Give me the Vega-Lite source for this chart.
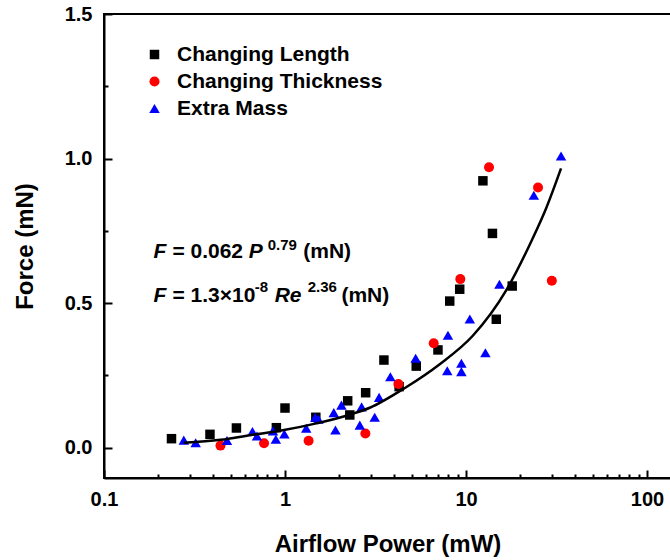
{
  "$schema": "https://vega.github.io/schema/vega-lite/v6.json",
  "width": 567,
  "height": 464,
  "autosize": {"type": "none"},
  "padding": {"left": 104, "top": 14, "right": 0, "bottom": 82},
  "background": "white",
  "config": {"view": {"stroke": "black", "strokeWidth": 2}, "font": "Liberation Sans", "axis": {"gridOpacity": 0}},
  "datasets": {
    "points": [
      {"series": "Changing Length", "power": 0.236, "force": 0.031},
      {"series": "Changing Length", "power": 0.385, "force": 0.046},
      {"series": "Changing Length", "power": 0.539, "force": 0.068},
      {"series": "Changing Length", "power": 0.896, "force": 0.069},
      {"series": "Changing Length", "power": 1.0, "force": 0.137},
      {"series": "Changing Length", "power": 1.48, "force": 0.105},
      {"series": "Changing Length", "power": 2.22, "force": 0.162},
      {"series": "Changing Length", "power": 2.28, "force": 0.113},
      {"series": "Changing Length", "power": 2.79, "force": 0.19},
      {"series": "Changing Length", "power": 3.52, "force": 0.303},
      {"series": "Changing Length", "power": 4.27, "force": 0.211},
      {"series": "Changing Length", "power": 5.31, "force": 0.282},
      {"series": "Changing Length", "power": 7.0, "force": 0.338},
      {"series": "Changing Length", "power": 8.13, "force": 0.507},
      {"series": "Changing Length", "power": 9.23, "force": 0.548},
      {"series": "Changing Length", "power": 12.4, "force": 0.923},
      {"series": "Changing Length", "power": 14.0, "force": 0.741},
      {"series": "Changing Length", "power": 14.7, "force": 0.444},
      {"series": "Changing Length", "power": 18.0, "force": 0.559},
      {"series": "Changing Thickness", "power": 0.44, "force": 0.007},
      {"series": "Changing Thickness", "power": 0.766, "force": 0.015},
      {"series": "Changing Thickness", "power": 1.35, "force": 0.024},
      {"series": "Changing Thickness", "power": 2.78, "force": 0.049},
      {"series": "Changing Thickness", "power": 4.23, "force": 0.22},
      {"series": "Changing Thickness", "power": 6.63, "force": 0.361},
      {"series": "Changing Thickness", "power": 9.3, "force": 0.583},
      {"series": "Changing Thickness", "power": 13.4, "force": 0.97},
      {"series": "Changing Thickness", "power": 25.0, "force": 0.9},
      {"series": "Changing Thickness", "power": 29.8, "force": 0.577},
      {"series": "Extra Mass", "power": 0.276, "force": 0.026},
      {"series": "Extra Mass", "power": 0.321, "force": 0.017},
      {"series": "Extra Mass", "power": 0.478, "force": 0.025},
      {"series": "Extra Mass", "power": 0.661, "force": 0.056},
      {"series": "Extra Mass", "power": 0.7, "force": 0.04},
      {"series": "Extra Mass", "power": 0.858, "force": 0.058},
      {"series": "Extra Mass", "power": 0.89, "force": 0.029},
      {"series": "Extra Mass", "power": 0.992, "force": 0.047},
      {"series": "Extra Mass", "power": 1.31, "force": 0.067},
      {"series": "Extra Mass", "power": 1.47, "force": 0.105},
      {"series": "Extra Mass", "power": 1.53, "force": 0.098},
      {"series": "Extra Mass", "power": 1.86, "force": 0.121},
      {"series": "Extra Mass", "power": 1.9, "force": 0.061},
      {"series": "Extra Mass", "power": 2.05, "force": 0.147},
      {"series": "Extra Mass", "power": 2.59, "force": 0.078},
      {"series": "Extra Mass", "power": 2.65, "force": 0.141},
      {"series": "Extra Mass", "power": 3.13, "force": 0.105},
      {"series": "Extra Mass", "power": 3.31, "force": 0.174},
      {"series": "Extra Mass", "power": 3.82, "force": 0.245},
      {"series": "Extra Mass", "power": 5.27, "force": 0.309},
      {"series": "Extra Mass", "power": 7.88, "force": 0.266},
      {"series": "Extra Mass", "power": 7.95, "force": 0.389},
      {"series": "Extra Mass", "power": 9.43, "force": 0.292},
      {"series": "Extra Mass", "power": 9.43, "force": 0.263},
      {"series": "Extra Mass", "power": 10.5, "force": 0.445},
      {"series": "Extra Mass", "power": 12.8, "force": 0.328},
      {"series": "Extra Mass", "power": 15.3, "force": 0.565},
      {"series": "Extra Mass", "power": 23.7, "force": 0.873},
      {"series": "Extra Mass", "power": 33.5, "force": 1.009}
    ],
    "fit": [
      {"power": 0.276, "force": 0.017},
      {"power": 0.44, "force": 0.027},
      {"power": 0.64, "force": 0.043},
      {"power": 0.97, "force": 0.06},
      {"power": 1.49, "force": 0.084},
      {"power": 2.28, "force": 0.114},
      {"power": 2.94, "force": 0.138},
      {"power": 4.69, "force": 0.21},
      {"power": 7.13, "force": 0.288},
      {"power": 10.9, "force": 0.387},
      {"power": 16.7, "force": 0.545},
      {"power": 23.0, "force": 0.715},
      {"power": 27.8, "force": 0.83},
      {"power": 33.5, "force": 0.966}
    ]
  },
  "layer": [
    {
      "data": {"name": "points"},
      "mark": {"type": "point", "filled": true, "opacity": 1, "strokeWidth": 0},
      "encoding": {
        "x": {"field": "power", "type": "quantitative",
          "scale": {"type": "log", "domain": [0.1, 135.7], "nice": false},
          "axis": {"orient": "bottom", "values": [0.1, 1, 10, 100], "format": "~g",
            "tickSize": -8, "tickWidth": 2, "tickColor": "black", "domainWidth": 2, "domainColor": "black",
            "labelFont": "Liberation Sans", "labelFontSize": 20, "labelFontWeight": "bold", "labelColor": "black",
            "labelPadding": 19, "labelFlush": false, "labelOverlap": false,
            "title": "Airflow Power (mW)", "titleFont": "Liberation Sans", "titleFontSize": 24, "titleFontWeight": "bold",
            "titleColor": "black", "titlePadding": 23}},
        "y": {"field": "force", "type": "quantitative",
          "scale": {"domain": [-0.105, 1.5], "nice": false, "zero": false},
          "axis": {"orient": "left", "values": [0, 0.5, 1, 1.5], "format": ".1f",
            "tickSize": -8, "tickWidth": 2, "tickColor": "black", "domainWidth": 2, "domainColor": "black",
            "labelFont": "Liberation Sans", "labelFontSize": 20, "labelFontWeight": "bold", "labelColor": "black",
            "labelPadding": 20, "labelFlush": false, "labelOverlap": false,
            "title": "Force (mN)", "titleFont": "Liberation Sans", "titleFontSize": 24, "titleFontWeight": "bold",
            "titleColor": "black", "titlePadding": 27}},
        "color": {"field": "series", "type": "nominal",
          "scale": {"domain": ["Changing Length", "Changing Thickness", "Extra Mass"], "range": ["#000000", "#ff0000", "#0000ff"]},
          "legend": {"orient": "none", "legendX": 40, "legendY": 30, "title": null, "padding": 0,
            "labelFont": "Liberation Sans", "labelFontSize": 21, "labelFontWeight": "bold", "labelColor": "black",
            "labelLimit": 400, "labelOffset": 12, "rowPadding": 5, "symbolOpacity": 1, "symbolStrokeWidth": 0}},
        "shape": {"field": "series", "type": "nominal",
          "scale": {"domain": ["Changing Length", "Changing Thickness", "Extra Mass"], "range": ["square", "circle", "triangle-up"]}},
        "size": {"field": "series", "type": "nominal",
          "scale": {"domain": ["Changing Length", "Changing Thickness", "Extra Mass"], "range": [90, 110, 340]}}
      }
    },
    {
      "data": {"name": "fit"},
      "mark": {"type": "line", "color": "black", "strokeWidth": 2.5, "interpolate": "monotone"},
      "encoding": {
        "x": {"field": "power", "type": "quantitative",
          "axis": {"orient": "top", "offset": -464, "values": [0.2,0.3,0.4,0.5,0.6,0.7,0.8,0.9,2,3,4,5,6,7,8,9,20,30,40,50,60,70,80,90],
            "labels": false, "title": null, "domain": false,
            "tickSize": 4, "tickWidth": 2, "tickColor": "black"}},
        "y": {"field": "force", "type": "quantitative",
          "axis": {"orient": "right", "offset": -567, "values": [0.25, 0.75, 1.25],
            "labels": false, "title": null, "domain": false,
            "tickSize": 4, "tickWidth": 2, "tickColor": "black"}}
      }
    },
    {"data": {"values": [{}]}, "mark": {"type": "text", "text": "F", "fontSize": 21, "fontWeight": "bold", "fontStyle": "italic", "align": "left", "baseline": "alphabetic", "color": "black", "font": "Liberation Sans"},
     "encoding": {"x": {"datum": 0.1877, "type": "quantitative", "axis": null}, "y": {"datum": 0.655, "type": "quantitative", "axis": null}}},
    {"data": {"values": [{}]}, "mark": {"type": "text", "text": "= 0.062", "fontSize": 21, "fontWeight": "bold", "align": "left", "baseline": "alphabetic", "color": "black", "font": "Liberation Sans"},
     "encoding": {"x": {"datum": 0.2387, "type": "quantitative", "axis": null}, "y": {"datum": 0.655, "type": "quantitative", "axis": null}}},
    {"data": {"values": [{}]}, "mark": {"type": "text", "text": "P", "fontSize": 21, "fontWeight": "bold", "fontStyle": "italic", "align": "left", "baseline": "alphabetic", "color": "black", "font": "Liberation Sans"},
     "encoding": {"x": {"datum": 0.63, "type": "quantitative", "axis": null}, "y": {"datum": 0.655, "type": "quantitative", "axis": null}}},
    {"data": {"values": [{}]}, "mark": {"type": "text", "text": "0.79", "fontSize": 15, "fontWeight": "bold", "align": "left", "baseline": "alphabetic", "color": "black", "font": "Liberation Sans"},
     "encoding": {"x": {"datum": 0.8025, "type": "quantitative", "axis": null}, "y": {"datum": 0.6835, "type": "quantitative", "axis": null}}},
    {"data": {"values": [{}]}, "mark": {"type": "text", "text": "(mN)", "fontSize": 21, "fontWeight": "bold", "align": "left", "baseline": "alphabetic", "color": "black", "font": "Liberation Sans"},
     "encoding": {"x": {"datum": 1.262, "type": "quantitative", "axis": null}, "y": {"datum": 0.655, "type": "quantitative", "axis": null}}},
    {"data": {"values": [{}]}, "mark": {"type": "text", "text": "F", "fontSize": 21, "fontWeight": "bold", "fontStyle": "italic", "align": "left", "baseline": "alphabetic", "color": "black", "font": "Liberation Sans"},
     "encoding": {"x": {"datum": 0.1877, "type": "quantitative", "axis": null}, "y": {"datum": 0.505, "type": "quantitative", "axis": null}}},
    {"data": {"values": [{}]}, "mark": {"type": "text", "text": "= 1.3×10", "fontSize": 21, "fontWeight": "bold", "align": "left", "baseline": "alphabetic", "color": "black", "font": "Liberation Sans"},
     "encoding": {"x": {"datum": 0.2387, "type": "quantitative", "axis": null}, "y": {"datum": 0.505, "type": "quantitative", "axis": null}}},
    {"data": {"values": [{}]}, "mark": {"type": "text", "text": "-8", "fontSize": 15, "fontWeight": "bold", "align": "left", "baseline": "alphabetic", "color": "black", "font": "Liberation Sans"},
     "encoding": {"x": {"datum": 0.68, "type": "quantitative", "axis": null}, "y": {"datum": 0.539, "type": "quantitative", "axis": null}}},
    {"data": {"values": [{}]}, "mark": {"type": "text", "text": "Re", "fontSize": 21, "fontWeight": "bold", "fontStyle": "italic", "align": "left", "baseline": "alphabetic", "color": "black", "font": "Liberation Sans"},
     "encoding": {"x": {"datum": 0.877, "type": "quantitative", "axis": null}, "y": {"datum": 0.505, "type": "quantitative", "axis": null}}},
    {"data": {"values": [{}]}, "mark": {"type": "text", "text": "2.36", "fontSize": 15, "fontWeight": "bold", "align": "left", "baseline": "alphabetic", "color": "black", "font": "Liberation Sans"},
     "encoding": {"x": {"datum": 1.335, "type": "quantitative", "axis": null}, "y": {"datum": 0.539, "type": "quantitative", "axis": null}}},
    {"data": {"values": [{}]}, "mark": {"type": "text", "text": "(mN)", "fontSize": 21, "fontWeight": "bold", "align": "left", "baseline": "alphabetic", "color": "black", "font": "Liberation Sans"},
     "encoding": {"x": {"datum": 2.049, "type": "quantitative", "axis": null}, "y": {"datum": 0.505, "type": "quantitative", "axis": null}}}
  ],
  "resolve": {"axis": {"x": "independent", "y": "independent"}}
}
